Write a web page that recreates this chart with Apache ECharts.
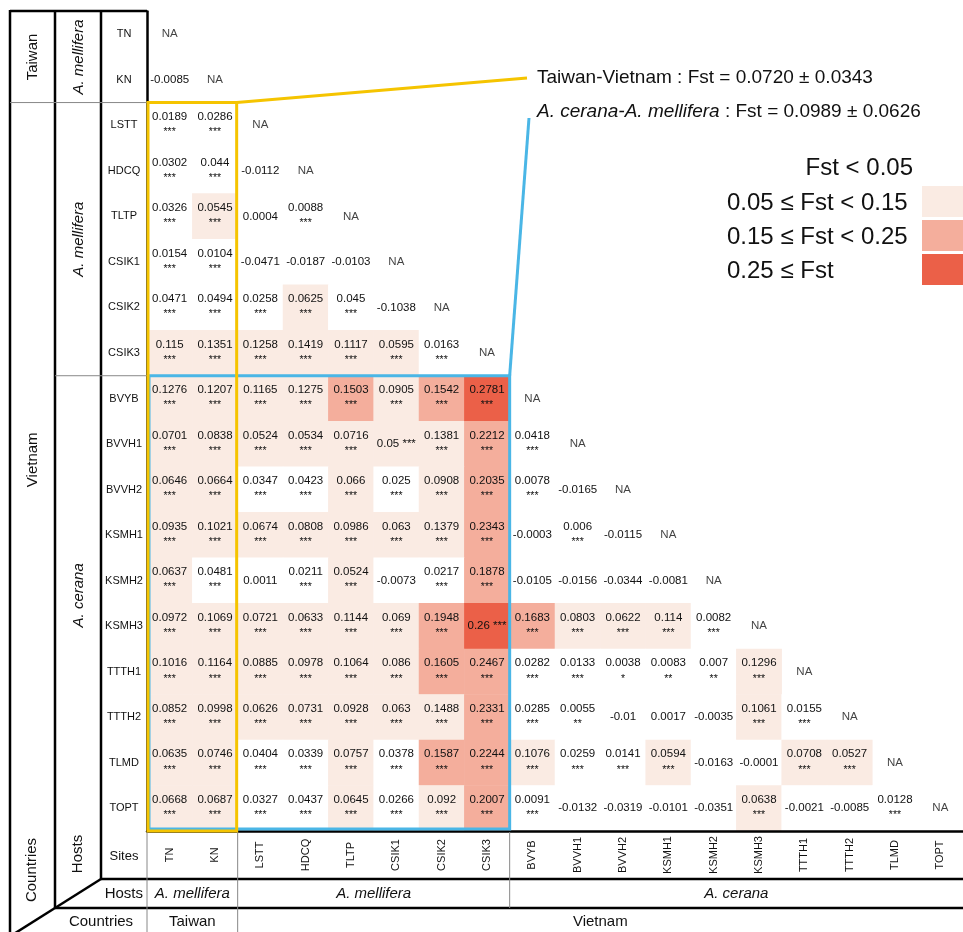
<!DOCTYPE html>
<html>
<head>
<meta charset="utf-8">
<script src="https://cdn.jsdelivr.net/npm/echarts@6/dist/echarts.min.js"></script>
<style>
  html, body { margin: 0; padding: 0; background: #fff; }
  #c { width: 963px; height: 932px; }
</style>
</head>
<body>
<div id="c"></div>
<script>
// Sampling sites, in matrix order (rows top-to-bottom, columns left-to-right)
const sites = ['TN', 'KN', 'LSTT', 'HDCQ', 'TLTP', 'CSIK1', 'CSIK2', 'CSIK3',
  'BVYB', 'BVVH1', 'BVVH2', 'KSMH1', 'KSMH2', 'KSMH3', 'TTTH1', 'TTTH2', 'TLMD', 'TOPT'];

// Pairwise Fst, lower triangle: row i holds the values against sites 0..i-1
const fstRows = [
  [],
  [-0.0085],
  [0.0189, 0.0286],
  [0.0302, 0.044, -0.0112],
  [0.0326, 0.0545, 0.0004, 0.0088],
  [0.0154, 0.0104, -0.0471, -0.0187, -0.0103],
  [0.0471, 0.0494, 0.0258, 0.0625, 0.045, -0.1038],
  [0.115, 0.1351, 0.1258, 0.1419, 0.1117, 0.0595, 0.0163],
  [0.1276, 0.1207, 0.1165, 0.1275, 0.1503, 0.0905, 0.1542, 0.2781],
  [0.0701, 0.0838, 0.0524, 0.0534, 0.0716, 0.05, 0.1381, 0.2212, 0.0418],
  [0.0646, 0.0664, 0.0347, 0.0423, 0.066, 0.025, 0.0908, 0.2035, 0.0078, -0.0165],
  [0.0935, 0.1021, 0.0674, 0.0808, 0.0986, 0.063, 0.1379, 0.2343, -0.0003, 0.006, -0.0115],
  [0.0637, 0.0481, 0.0011, 0.0211, 0.0524, -0.0073, 0.0217, 0.1878, -0.0105, -0.0156, -0.0344, -0.0081],
  [0.0972, 0.1069, 0.0721, 0.0633, 0.1144, 0.069, 0.1948, 0.26, 0.1683, 0.0803, 0.0622, 0.114, 0.0082],
  [0.1016, 0.1164, 0.0885, 0.0978, 0.1064, 0.086, 0.1605, 0.2467, 0.0282, 0.0133, 0.0038, 0.0083, 0.007, 0.1296],
  [0.0852, 0.0998, 0.0626, 0.0731, 0.0928, 0.063, 0.1488, 0.2331, 0.0285, 0.0055, -0.01, 0.0017, -0.0035, 0.1061, 0.0155],
  [0.0635, 0.0746, 0.0404, 0.0339, 0.0757, 0.0378, 0.1587, 0.2244, 0.1076, 0.0259, 0.0141, 0.0594, -0.0163, -0.0001, 0.0708, 0.0527],
  [0.0668, 0.0687, 0.0327, 0.0437, 0.0645, 0.0266, 0.092, 0.2007, 0.0091, -0.0132, -0.0319, -0.0101, -0.0351, 0.0638, -0.0021, -0.0085, 0.0128]
];

// Significance per cell, same layout: 3 = ***, 2 = **, 1 = *, 0 = not significant
const sigRows = [
  '',
  '0',
  '33',
  '330',
  '3303',
  '33000',
  '333330',
  '3333333',
  '33333333',
  '333333333',
  '3333333330',
  '33333333030',
  '330330330000',
  '3333333333333',
  '33333333331223',
  '333333333200033',
  '3333333333330033',
  '33333333300003003'
];
const starMarks = { '0': '', '1': '*', '2': '**', '3': '***' };

// Cells whose stars sit on the same line as the value
const inlineCells = [['BVVH1', 'CSIK1'], ['KSMH3', 'CSIK3']];

// Fst classes
const legendLabels = ['Fst < 0.05', '0.05 ≤ Fst < 0.15', '0.15 ≤ Fst < 0.25', '0.25 ≤ Fst'];
const legendColors = ['#ffffff', '#faebe3', '#f4ae9c', '#eb6048'];
const legendBreaks = [0.05, 0.15, 0.25];

// Country / host groupings of the sites
const countryGroups = [
  { name: 'Taiwan', from: 'TN', to: 'KN' },
  { name: 'Vietnam', from: 'LSTT', to: 'TOPT' }
];
const hostGroups = [
  { name: 'A. mellifera', from: 'TN', to: 'KN' },
  { name: 'A. mellifera', from: 'LSTT', to: 'CSIK3' },
  { name: 'A. cerana', from: 'BVYB', to: 'TOPT' }
];

// Group means
const summaryTaiwanVietnam = { label: 'Taiwan-Vietnam', mean: '0.0720', sd: '0.0343' };
const summaryHosts = { label: 'A. cerana-A. mellifera', mean: '0.0989', sd: '0.0626' };

// ---------------------------------------------------------------
const FONT = "'Liberation Sans', Arial, Helvetica, sans-serif";
const TXT = '#111';
const idx = name => sites.indexOf(name);

const cells = [];
fstRows.forEach((row, i) => {
  row.forEach((v, j) => {
    cells.push({
      value: [j, i, v],
      sig: starMarks[sigRows[i][j]],
      inline: inlineCells.some(c => idx(c[0]) === i && idx(c[1]) === j)
    });
  });
});

const pieces = legendColors.map((color, k) => {
  const p = { color: color };
  if (k > 0) p.gte = legendBreaks[k - 1];
  if (k < legendBreaks.length) p.lt = legendBreaks[k];
  return p;
});

const chart = echarts.init(document.getElementById('c'), null, { renderer: 'canvas' });

chart.setOption({
  animation: false,
  backgroundColor: '#fff',
  textStyle: { fontFamily: FONT },
  grid: { left: 147, top: 11.5, width: 821.7, height: 819.5, containLabel: false },
  xAxis: {
    type: 'category',
    data: sites,
    position: 'bottom',
    z: 10,
    axisLine: { show: true, lineStyle: { color: '#000', width: 2.5 } },
    axisTick: { show: false },
    splitLine: { show: false },
    axisLabel: {
      interval: 0, rotate: 90, margin: 24, align: 'center', verticalAlign: 'middle',
      fontSize: 11, color: TXT, fontFamily: FONT
    }
  },
  yAxis: {
    type: 'category',
    data: sites,
    inverse: true,
    z: 10,
    axisLine: { show: true, lineStyle: { color: '#000', width: 2.5 } },
    axisTick: { show: false },
    splitLine: { show: false },
    axisLabel: {
      interval: 0, margin: 23, align: 'center', verticalAlign: 'middle',
      fontSize: 11, color: TXT, fontFamily: FONT
    }
  },
  visualMap: {
    type: 'piecewise', show: false, seriesIndex: 0, dimension: 2, pieces: pieces
  },
  series: [
    {
      type: 'heatmap',
      data: cells,
      itemStyle: { borderWidth: 0 },
      emphasis: { disabled: true },
      label: {
        show: true,
        fontFamily: FONT,
        formatter: p => {
          const v = p.data.value[2], s = p.data.sig;
          if (!s) return '{v|' + v + '}';
          if (p.data.inline) return '{v|' + v + ' ' + s + '}';
          return '{v|' + v + '}\n{s|' + s + '}';
        },
        rich: {
          v: { fontSize: 11.5, lineHeight: 14, color: TXT, fontFamily: FONT },
          s: { fontSize: 10.5, lineHeight: 17, color: TXT, fontFamily: FONT }
        }
      }
    },
    {
      type: 'scatter',
      silent: true,
      data: sites.map((s, i) => [i, i]),
      symbolSize: 1,
      itemStyle: { color: 'rgba(0,0,0,0)' },
      label: { show: true, position: 'inside', formatter: 'NA', fontSize: 11.5, color: TXT, fontFamily: FONT }
    }
  ]
});

// ---- frame, group labels, highlight boxes and legend ----
const px = (col, row) => chart.convertToPixel({ gridIndex: 0 }, [col, row]);
const c0 = px(0, 0), c1 = px(1, 1);
const cw = c1[0] - c0[0], rh = c1[1] - c0[1];
const colL = j => px(j, 0)[0] - cw / 2;
const colR = j => px(j, 0)[0] + cw / 2;
const rowT = i => px(0, i)[1] - rh / 2;
const rowB = i => px(0, i)[1] + rh / 2;

const gridX = colL(0), gridBottom = rowB(sites.length - 1), gridTop = rowT(0);
const W = 963, H = 932;
const X_OUT = 10, X_HOST = 55, X_SITE = 101;
const Y_HOSTROW = 879, Y_COUNTRYROW = 908;

const els = [];
const line = (x1, y1, x2, y2, color, w) => els.push({
  type: 'line', z: 50, silent: true,
  shape: { x1, y1, x2, y2 },
  style: { stroke: color, lineWidth: w }
});
const text = (str, x, y, opts) => els.push(Object.assign({
  type: 'text', z: 60, silent: true, x: x, y: y,
  style: Object.assign({
    text: str, x: 0, y: 0, fill: TXT, fontSize: 15, fontFamily: FONT,
    align: 'center', verticalAlign: 'middle'
  }, opts && opts.style)
}, opts && opts.el));

// outer frame of the row-header block
line(X_OUT, gridTop - 0.5, gridX, gridTop - 0.5, '#000', 2.5);
line(X_OUT, gridTop - 1.5, X_OUT, H, '#000', 2.5);
line(X_HOST, gridTop - 1.5, X_HOST, Y_COUNTRYROW, '#000', 2.5);
line(X_SITE, gridTop - 1.5, X_SITE, Y_HOSTROW, '#000', 2.5);
// column-header block
line(X_SITE, Y_HOSTROW, W, Y_HOSTROW, '#000', 2.5);
line(X_HOST, Y_COUNTRYROW, W, Y_COUNTRYROW, '#000', 2.5);
line(X_SITE, Y_HOSTROW, X_HOST, Y_COUNTRYROW, '#000', 2.5);
line(X_HOST, Y_COUNTRYROW, X_HOST - (X_SITE - X_HOST), Y_COUNTRYROW + (Y_COUNTRYROW - Y_HOSTROW), '#000', 2.5);
line(gridX, gridBottom + 1, gridX, H, '#888', 1);

// row-group dividers and labels
const taiwanEnd = rowB(idx('KN'));
line(X_OUT, taiwanEnd, gridX, taiwanEnd, '#888', 1);
const hostSplit = rowB(idx('CSIK3'));
line(X_HOST, hostSplit, gridX, hostSplit, '#888', 1);

const rowMid = g => (rowT(idx(g.from)) + rowB(idx(g.to))) / 2;
const colMid = g => (colL(idx(g.from)) + colR(idx(g.to))) / 2;
const rot = Math.PI / 2;
countryGroups.forEach((g, k) => {
  text(g.name, (X_OUT + X_HOST) / 2, rowMid(g) - (k ? 7 : 0), { el: { rotation: rot } });
});
hostGroups.forEach((g, k) => {
  text(g.name, (X_HOST + X_SITE) / 2 + 1, rowMid(g) - (k === 2 ? 8 : 0),
    { el: { rotation: rot }, style: { fontStyle: 'italic' } });
});

// column-group dividers and labels
for (let k = 1; k < countryGroups.length; k++) {
  const x = colL(idx(countryGroups[k].from));
  line(x, gridBottom + 1, x, H, '#888', 1);
}
for (let k = 1; k < hostGroups.length; k++) {
  const x = colL(idx(hostGroups[k].from));
  if (hostGroups[k].from !== countryGroups[1].from) line(x, gridBottom + 1, x, Y_COUNTRYROW, '#888', 1);
}
hostGroups.forEach(g => text(g.name, colMid(g), (Y_HOSTROW + Y_COUNTRYROW) / 2, { style: { fontStyle: 'italic' } }));
countryGroups.forEach(g => text(g.name, colMid(g), (Y_COUNTRYROW + H) / 2 + 2));

// corner captions
text('Countries', (X_OUT + X_HOST) / 2 - 1, 870, { el: { rotation: rot } });
text('Hosts', (X_HOST + X_SITE) / 2, 854, { el: { rotation: rot } });
text('Sites', (X_SITE + gridX) / 2, 856, { style: { fontSize: 13 } });
text('Hosts', gridX - 4, (Y_HOSTROW + Y_COUNTRYROW) / 2, { style: { align: 'right' } });
text('Countries', 101, (Y_COUNTRYROW + H) / 2 + 2);

// highlighted blocks: Taiwan vs Vietnam (yellow), A. cerana vs A. mellifera (blue)
const YEL = '#f5c400', BLU = '#4ab6e6';
const blueBox = { x0: colL(idx('TN')) + 2, y0: rowT(idx('BVYB')), x1: colR(idx('CSIK3')), y1: gridBottom - 2 };
const yelBox = { x0: colL(idx('TN')) + 1, y0: rowT(idx('LSTT')), x1: colR(idx('KN')) - 1, y1: gridBottom };
els.push({
  type: 'rect', z: 70, silent: true,
  shape: { x: blueBox.x0, y: blueBox.y0, width: blueBox.x1 - blueBox.x0, height: blueBox.y1 - blueBox.y0 },
  style: { fill: 'none', stroke: BLU, lineWidth: 3 }
});
els.push({
  type: 'rect', z: 71, silent: true,
  shape: { x: yelBox.x0, y: yelBox.y0, width: yelBox.x1 - yelBox.x0, height: yelBox.y1 - yelBox.y0 },
  style: { fill: 'none', stroke: YEL, lineWidth: 3 }
});

// summary captions with leader lines to their blocks
const capX = 537, capY1 = 78, capY2 = 112;
els.push({ type: 'line', z: 71, silent: true,
  shape: { x1: yelBox.x1, y1: yelBox.y0, x2: capX - 10, y2: capY1 },
  style: { stroke: YEL, lineWidth: 3 } });
els.push({ type: 'line', z: 70, silent: true,
  shape: { x1: blueBox.x1, y1: blueBox.y0, x2: capX - 8, y2: capY2 + 6 },
  style: { stroke: BLU, lineWidth: 3 } });
text(summaryTaiwanVietnam.label + ' : Fst = ' + summaryTaiwanVietnam.mean + ' ± ' + summaryTaiwanVietnam.sd,
  capX, capY1, { style: { align: 'left', fontSize: 19 } });
els.push({
  type: 'text', z: 60, silent: true, x: capX, y: capY2,
  style: {
    text: '{i|' + summaryHosts.label + '}{n| : Fst = ' + summaryHosts.mean + ' ± ' + summaryHosts.sd + '}',
    x: 0, y: 0, align: 'left', verticalAlign: 'middle',
    rich: {
      i: { fontStyle: 'italic', fontSize: 19, fontFamily: FONT, fill: TXT },
      n: { fontSize: 19, fontFamily: FONT, fill: TXT }
    }
  }
});

// Fst class legend
const legTextY = [168, 203, 237, 271];
const legAlign = ['right', 'left', 'left', 'left'];
legendLabels.forEach((lab, k) => {
  els.push({ type: 'rect', z: 40, silent: true,
    shape: { x: 922, y: legTextY[k] - 17, width: 45, height: 31 },
    style: { fill: legendColors[k] } });
  text(lab, legAlign[k] === 'right' ? 913 : 727, legTextY[k],
    { style: { align: legAlign[k], fontSize: 24 } });
});

chart.setOption({ graphic: { elements: els } });
</script>
</body>
</html>
